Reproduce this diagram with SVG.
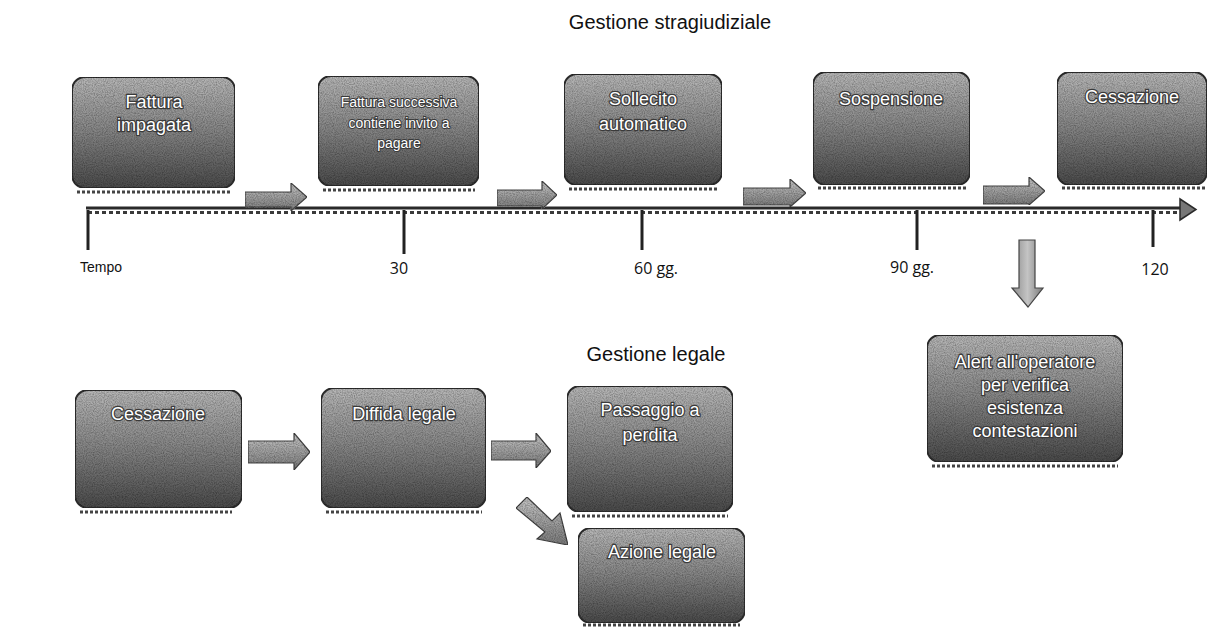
<svg xmlns="http://www.w3.org/2000/svg" width="1213" height="627" viewBox="0 0 1213 627">
<defs>
<linearGradient id="gBox" x1="0" y1="0" x2="0" y2="1">
<stop offset="0" stop-color="#b8b8b8"/>
<stop offset="0.45" stop-color="#8a8a8a"/>
<stop offset="1" stop-color="#4a4a4a"/>
</linearGradient>
<linearGradient id="gArr" x1="0" y1="0" x2="0" y2="1">
<stop offset="0" stop-color="#c8c8c8"/>
<stop offset="1" stop-color="#7a7a7a"/>
</linearGradient>
<linearGradient id="gArrV" x1="0" y1="0" x2="1" y2="0">
<stop offset="0" stop-color="#8a8a8a"/>
<stop offset="0.5" stop-color="#c4c4c4"/>
<stop offset="1" stop-color="#7a7a7a"/>
</linearGradient>
<filter id="grain" x="0" y="0" width="100%" height="100%">
<feTurbulence type="fractalNoise" baseFrequency="0.9" numOctaves="2" seed="3" result="n"/>
<feColorMatrix in="n" type="matrix" values="0 0 0 0 0.5  0 0 0 0 0.5  0 0 0 0 0.5  0 0 0 2 -0.6" result="g"/>
<feComposite in="g" in2="SourceGraphic" operator="in" result="gi"/>
<feBlend in="SourceGraphic" in2="gi" mode="multiply"/>
</filter>
</defs>
<style>
.box{fill:url(#gBox);stroke:#2e2e2e;stroke-width:2;filter:url(#grain)}
.refl{stroke:#444;stroke-width:3;stroke-dasharray:3 2;fill:none}
.t{font-family:"Liberation Sans",Arial,sans-serif;fill:#fff;stroke:#3a3a3a;stroke-width:2.4;paint-order:stroke;text-anchor:middle;font-size:18px}
.ts{font-size:14px;stroke-width:2}
.title{font-family:"Liberation Sans",Arial,sans-serif;font-size:20px;fill:#111;text-anchor:middle}
.lbl{font-family:"Open Sans","Liberation Sans",sans-serif;font-size:16px;fill:#111;text-anchor:middle}
.arr{fill:url(#gArr);stroke:#444;stroke-width:1.2;filter:url(#grain)}
.arrv{fill:url(#gArrV);stroke:#444;stroke-width:1.2}
.tick{stroke:#222;stroke-width:3}
</style>
<rect width="1213" height="627" fill="#ffffff"/>

<text class="title" x="670" y="29">Gestione stragiudiziale</text>
<text class="title" x="656" y="361">Gestione legale</text>

<g id="connectors">
<!-- timeline -->
<line x1="86" y1="208" x2="1186" y2="208" stroke="#2a2a2a" stroke-width="3"/>
<line x1="88" y1="212.5" x2="1184" y2="212.5" stroke="#3a3a3a" stroke-width="3" stroke-dasharray="4 3"/>
<path d="M1180,199 L1196,209.5 L1180,220 Z" fill="#777" stroke="#2a2a2a" stroke-width="1.5"/>
<line class="tick" x1="88" y1="210" x2="88" y2="250"/>
<line class="tick" x1="404" y1="210" x2="404" y2="254"/>
<line class="tick" x1="642" y1="210" x2="642" y2="250"/>
<line class="tick" x1="917" y1="210" x2="917" y2="250"/>
<line class="tick" x1="1153" y1="210" x2="1153" y2="247"/>
<!-- small block arrows on timeline -->
<path class="arr" d="M245,192 L291,192 L291,183 L307,197 L291,211 L291,207 L245,207 Z"/>
<path class="arr" d="M497,190 L542,190 L542,181 L557,195 L542,209 L542,206 L497,206 Z"/>
<path class="arr" d="M743,188 L790,188 L790,179 L806,193 L790,207 L790,205 L743,205 Z"/>
<path class="arr" d="M983,186 L1029,186 L1029,177 L1045,191 L1029,205 L1029,204 L983,204 Z"/>
<!-- down arrow to alert -->
<path class="arrv" d="M1019,240 L1035,240 L1035,288 L1043,288 L1028,307 L1012,288 L1019,288 Z"/>
<!-- legal arrows -->
<path class="arr" d="M248,441 L294,441 L294,433 L310,452 L294,470 L294,463 L248,463 Z"/>
<path class="arr" d="M491,441 L536,441 L536,433 L551,451 L536,468 L536,460 L491,460 Z"/>
<path class="arr" d="M516,508 L527,497 L552,521 L560,513 L568,545 L537,539 L545,532 Z"/>
</g>

<g id="n-fattura">
<rect class="box" x="72" y="77" width="163" height="111" rx="13"/>
<line class="refl" x1="77" y1="192" x2="231" y2="192"/>
<text class="t" x="154" y="108">Fattura</text>
<text class="t" x="154" y="131">impagata</text>
</g>
<g id="n-successiva">
<rect class="box" x="318" y="76" width="161" height="110" rx="13"/>
<line class="refl" x1="323" y1="190" x2="475" y2="190"/>
<text class="t ts" x="399" y="107">Fattura successiva</text>
<text class="t ts" x="399" y="128">contiene invito a</text>
<text class="t ts" x="399" y="148">pagare</text>
</g>
<g id="n-sollecito">
<rect class="box" x="564" y="74" width="158" height="111" rx="13"/>
<line class="refl" x1="569" y1="189" x2="718" y2="189"/>
<text class="t" x="643" y="105">Sollecito</text>
<text class="t" x="643" y="130">automatico</text>
</g>
<g id="n-sospensione">
<rect class="box" x="813" y="72" width="157" height="113" rx="13"/>
<line class="refl" x1="818" y1="188" x2="966" y2="188"/>
<text class="t" x="891" y="105">Sospensione</text>
</g>
<g id="n-cessazione1">
<rect class="box" x="1057" y="72" width="150" height="113" rx="13"/>
<line class="refl" x1="1062" y1="188" x2="1205" y2="188"/>
<text class="t" x="1132" y="103">Cessazione</text>
</g>

<g id="timeline-labels">
<text class="lbl" x="101" y="272" style="font-family:'Liberation Sans',Arial,sans-serif;font-size:14px">Tempo</text>
<text class="lbl" x="399" y="274">30</text>
<text class="lbl" x="656" y="274">60 gg.</text>
<text class="lbl" x="912" y="273">90 gg.</text>
<text class="lbl" x="1155" y="275">120</text>
</g>

<g id="n-alert">
<rect class="box" x="927" y="335" width="196" height="127" rx="13"/>
<line class="refl" x1="932" y1="466" x2="1118" y2="466"/>
<text class="t" x="1025" y="368">Alert all'operatore</text>
<text class="t" x="1025" y="391">per verifica</text>
<text class="t" x="1025" y="414">esistenza</text>
<text class="t" x="1025" y="437">contestazioni</text>
</g>

<g id="n-cessazione2">
<rect class="box" x="75" y="390" width="167" height="118" rx="13"/>
<line class="refl" x1="80" y1="512" x2="232" y2="512"/>
<text class="t" x="158" y="420">Cessazione</text>
</g>
<g id="n-diffida">
<rect class="box" x="321" y="388" width="165" height="120" rx="13"/>
<line class="refl" x1="326" y1="512" x2="482" y2="512"/>
<text class="t" x="404" y="420">Diffida legale</text>
</g>
<g id="n-perdita">
<rect class="box" x="567" y="386" width="166" height="126" rx="13"/>
<line class="refl" x1="572" y1="516" x2="728" y2="516"/>
<text class="t" x="650" y="416">Passaggio a</text>
<text class="t" x="650" y="441">perdita</text>
</g>
<g id="n-azione">
<rect class="box" x="578" y="528" width="167" height="95" rx="13"/>
<line class="refl" x1="583" y1="625" x2="740" y2="625"/>
<text class="t" x="662" y="558">Azione legale</text>
</g>
</svg>
